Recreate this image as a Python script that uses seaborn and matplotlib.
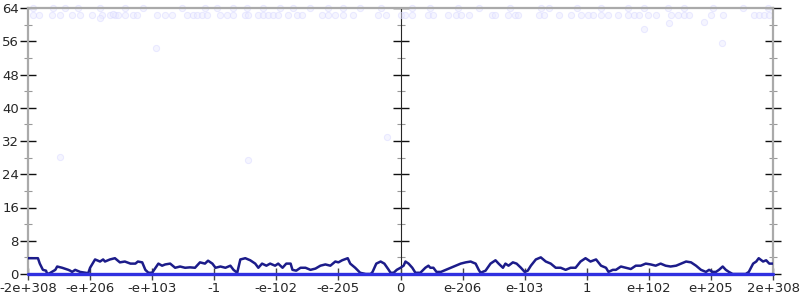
import matplotlib
matplotlib.use("Agg")
import matplotlib.pyplot as plt
from matplotlib.ticker import MultipleLocator, NullFormatter
import seaborn as sns
import pandas as pd

# ---- data (x in tick-index units: -6 .. 6) ----
tick_pos = [-6, -5, -4, -3, -2, -1, 0, 1, 2, 3, 4, 5, 6]
tick_labels = ['-2e+308', '-e+206', '-e+103', '-1', '-e-102', '-e-205', '0',
               'e-206', 'e-103', '1', 'e+102', 'e+205', '2e+308']
y_ticks = [0, 8, 16, 24, 32, 40, 48, 56, 64]

line_x = [-6.0, -5.84, -5.81, -5.76, -5.71, -5.69, -5.65, -5.56, -5.53, -5.45, -5.35, -5.32,
          -5.29, -5.24, -5.16, -5.03, -5.0, -4.92, -4.84, -4.79, -4.76, -4.68, -4.6, -4.52,
          -4.44, -4.35, -4.27, -4.23, -4.16, -4.11, -4.06, -4.0, -3.9, -3.84, -3.79, -3.71,
          -3.63, -3.55, -3.47, -3.39, -3.31, -3.23, -3.15, -3.1, -3.03, -2.98, -2.9, -2.82,
          -2.74, -2.69, -2.63, -2.58, -2.5, -2.42, -2.34, -2.29, -2.23, -2.16, -2.1, -2.02,
          -1.97, -1.9, -1.84, -1.77, -1.74, -1.68, -1.61, -1.53, -1.45, -1.37, -1.29, -1.21,
          -1.13, -1.05, -1.0, -0.94, -0.85, -0.81, -0.73, -0.65, -0.56, -0.48, -0.45, -0.39,
          -0.32, -0.26, -0.19, -0.16, -0.11, -0.06, 0.0,
          0.05, 0.08, 0.13, 0.19, 0.24, 0.32, 0.4, 0.45, 0.48, 0.53, 0.58, 0.65, 0.73, 0.81,
          0.89, 0.97, 1.05, 1.13, 1.16, 1.21, 1.26, 1.29, 1.37, 1.45, 1.53, 1.58, 1.65, 1.69,
          1.74, 1.81, 1.87, 1.94, 2.0, 2.05, 2.1, 2.18, 2.26, 2.34, 2.42, 2.5, 2.58, 2.66,
          2.74, 2.82, 2.9, 2.98, 3.06, 3.15, 3.23, 3.31, 3.35, 3.42, 3.47, 3.55, 3.63, 3.71,
          3.79, 3.87, 3.95, 4.03, 4.11, 4.19, 4.27, 4.35, 4.44, 4.52, 4.6, 4.68, 4.76, 4.84,
          4.92, 4.97, 5.03, 5.08, 5.13, 5.19, 5.24, 5.29, 5.35, 5.48, 5.56, 5.61, 5.68, 5.73,
          5.77, 5.84, 5.89, 5.94, 6.0]
line_y = [3.8, 3.8, 2.5, 1.0, 0.8, 0.0, 0.2, 1.0, 1.8, 1.5, 1.0, 0.8,
          0.5, 1.0, 0.5, 0.2, 1.5, 3.5, 3.0, 3.5, 3.0, 3.5, 3.8, 2.8,
          3.0, 2.5, 2.5, 3.0, 2.8, 1.0, 0.3, 0.3, 2.5, 2.0, 2.3, 2.5,
          1.5, 1.8, 1.5, 1.6, 1.5, 2.8, 2.5, 3.2, 2.5, 1.5, 1.8, 1.5,
          2.0, 1.0, 0.3, 3.5, 3.8, 3.3, 2.5, 1.5, 2.5, 2.0, 2.5, 2.0,
          2.5, 1.5, 2.5, 2.5, 1.0, 0.8, 1.5, 1.5, 1.0, 1.3, 2.0, 2.3,
          2.0, 3.0, 2.8, 3.3, 3.8, 2.5, 1.5, 0.3, 0.0, 0.0, 0.5, 2.5,
          3.0, 2.5, 1.0, 0.3, 0.3, 1.0, 1.5,
          2.0, 3.0, 2.5, 1.5, 0.3, 0.3, 1.5, 2.0, 1.5, 1.5, 0.5, 0.5, 1.0, 1.5,
          2.0, 2.5, 2.8, 3.0, 2.8, 2.5, 1.0, 0.3, 0.8, 2.5, 3.3, 2.5, 1.5, 2.5,
          2.0, 2.8, 2.5, 1.5, 0.5, 0.8, 2.0, 3.5, 4.0, 3.0, 2.5, 1.5, 1.5, 1.0,
          1.5, 1.5, 3.0, 3.8, 3.0, 3.5, 2.0, 1.5, 0.5, 1.0, 1.0, 1.8, 1.5, 1.2,
          2.0, 2.0, 2.5, 2.3, 2.0, 2.5, 2.0, 1.8, 2.0, 2.5, 3.0, 2.8, 2.0, 1.0,
          0.5, 1.0, 0.5, 0.5, 1.0, 1.8, 1.0, 0.5, 0.0, 0.0, 0.0, 0.5, 2.5, 3.0,
          3.8, 3.0, 3.3, 2.5, 2.5]

baseline_x = [-6, 6]
baseline_y = [0, 0]

pts_x = [-5.92, -5.82, -5.61, -5.48, -5.29, -5.16, -4.97, -4.81, -4.68, -4.6, -4.55, -4.44,
         -4.31, -4.24, -3.92, -3.79, -3.68, -3.44, -3.35, -3.27, -3.19, -3.11, -2.9, -2.79,
         -2.69, -2.5, -2.45, -2.29, -2.21, -2.13, -2.05, -1.97, -1.82, -1.66, -1.58, -1.26,
         -1.16, -1.05, -0.92, -0.77, -0.37, -0.24,
         0.0, 0.08, 0.19, 0.45, 0.53, 0.76, 0.89, 0.97, 1.1, 1.48, 1.53, 1.73, 1.85, 1.9,
         2.23, 2.31, 2.55, 2.74, 2.9, 3.02, 3.1, 3.23, 3.35, 3.5, 3.66, 3.76, 3.84, 3.98,
         4.11, 4.35, 4.47, 4.56, 4.65, 5.0, 5.19, 5.69, 5.77, 5.85, 5.94,
         -5.92, -5.6, -5.4, -5.19, -4.84, -4.44, -4.15, -3.52, -3.15, -2.95, -2.69, -2.47,
         -2.21, -1.94, -1.73, -1.45, -1.16, -0.92, -0.65, -0.32,
         0.19, 0.48, 0.92, 1.26, 1.77, 2.26, 2.39, 2.85, 3.23, 3.66, 3.92, 4.31, 4.56, 5.03,
         5.52, 5.92,
         -4.84, -3.94, 4.32, 4.89, 3.92, 5.18, -5.48, -2.45, -0.21, -4.63]
pts_y = [62.2] * 42 + [62.2] * 39 + [64.0] * 20 + [64.0] * 16 + \
        [61.5, 54.3, 60.3, 60.6, 58.9, 55.5, 28.1, 27.4, 33.0, 62.5]

# ---- plot ----
sns.set_style("white")
plt.rcParams['font.family'] = ['DejaVu Sans']

fig = plt.figure(figsize=(8, 3), dpi=100)
ax = fig.add_axes([28 / 800, 26 / 300, 745 / 800, 266 / 300])

pts = pd.DataFrame({"x": pts_x, "y": pts_y})
sns.scatterplot(data=pts, x="x", y="y", ax=ax, s=20, color="#ececff", alpha=0.5,
                edgecolor="#d6d6ff", linewidth=0.7, clip_on=False, zorder=1)

ln = pd.DataFrame({"x": line_x, "y": line_y})
sns.lineplot(data=ln, x="x", y="y", ax=ax, color="#1c1c8a", linewidth=1.8,
             estimator=None, sort=False, zorder=4)

bl = pd.DataFrame({"x": baseline_x, "y": baseline_y})
sns.lineplot(data=bl, x="x", y="y", ax=ax, color="#3030e0", linewidth=2.4,
             estimator=None, zorder=5, clip_on=False)

ax.set_xlim(-6, 6)
ax.set_ylim(0, 64)
ax.set_xlabel("")
ax.set_ylabel("")

for side in ["left", "right", "top"]:
    ax.spines[side].set_color("#aaaaaa")
    ax.spines[side].set_linewidth(1.6)
ax.spines["bottom"].set_visible(False)

ax.set_xticks(tick_pos)
ax.set_xticklabels(tick_labels)
ax.set_yticks(y_ticks)
ax.set_yticklabels([str(v) for v in y_ticks])
ax.yaxis.set_minor_locator(MultipleLocator(4))

ax.tick_params(axis="y", which="major", direction="inout", length=11, width=1,
               color="#111111", left=True, right=True, labelright=False,
               labelsize=9.5, pad=1)
ax.tick_params(axis="y", which="minor", direction="inout", length=6, width=0.8,
               color="#999999", left=True, right=True)
ax.tick_params(axis="x", which="major", direction="inout", length=8, width=1,
               color="#444444", bottom=True, labelsize=9.5, pad=2)

sec = ax.secondary_yaxis(0.5)
sec.set_yticks(y_ticks)
sec.yaxis.set_major_formatter(NullFormatter())
sec.yaxis.set_minor_locator(MultipleLocator(4))
sec.spines["left"].set_color("#aaaaaa")
sec.spines["left"].set_linewidth(1.6)
sec.tick_params(axis="y", which="major", direction="inout", length=11, width=1,
                color="#111111", labelleft=False)
sec.tick_params(axis="y", which="minor", direction="inout", length=6, width=0.8,
                color="#999999")

fig.savefig("out.png", dpi=100)
